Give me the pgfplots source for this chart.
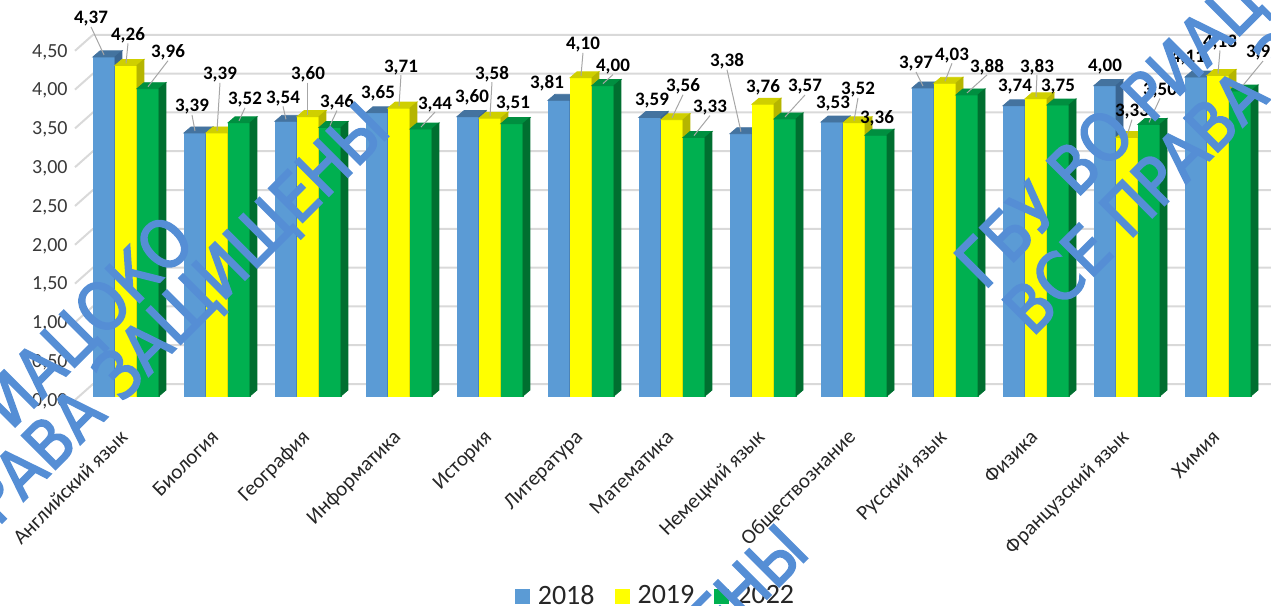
\documentclass[border=0pt]{standalone}
\usepackage{fontspec}
\setmainfont{Carlito}
\newfontfamily\wmfont[FakeStretch=0.89,FakeBold=2.5]{DejaVu Sans}
\usepackage{pgfplots}
\usepackage{pgfplotstable}
\pgfplotsset{compat=1.18}
\pgfdeclareplotmark{nothing}{}

\definecolor{cA}{HTML}{5B9BD5}
\definecolor{cAt}{HTML}{44739F}
\definecolor{cAs}{HTML}{3A6591}
\definecolor{cB}{HTML}{FFFF00}
\definecolor{cBt}{HTML}{CFCF00}
\definecolor{cBs}{HTML}{B5B500}
\definecolor{cC}{HTML}{00B050}
\definecolor{cCt}{HTML}{008F40}
\definecolor{cCs}{HTML}{006F30}
\definecolor{gridc}{HTML}{D9D9D9}
\definecolor{leadc}{HTML}{A6A6A6}
\definecolor{wmblue}{HTML}{558ED5}

% x = category, y = value, lx/ly = label offset (px) from bar top
\pgfplotstableread{
x y lx ly
0 4.37 -13 -38
1 3.39 -3 -26
2 3.54 -3 -23
3 3.65 1 -19
4 3.60 4 -19
5 3.81 -12 -17
6 3.59 2 -17
7 3.38 -14 -72
8 3.53 1 -19
9 3.97 -7 -24
10 3.74 1 -19
11 4.00 0 -19
12 4.11 -8 -19
}\tabA
\pgfplotstableread{
x y lx ly
0 4.26 2 -30
1 3.39 3 -58
2 3.60 0 -42
3 3.71 2 -41
4 3.58 2 -44
5 4.10 2 -33
6 3.56 11 -33
7 3.76 0 -17
8 3.52 4 -33
9 4.03 7 -28
10 3.83 1 -32
11 3.33 5 -26
12 4.13 2 -33
}\tabB
\pgfplotstableread{
x y lx ly
0 3.96 20 -36
1 3.52 6 -23
2 3.46 7 -25
3 3.44 14 -25
4 3.51 1 -20
5 4.00 10 -19
6 3.33 16 -30
7 3.57 20 -32
8 3.36 1 -17
9 3.88 20 -28
10 3.75 0 -18
11 3.50 11 -34
12 3.93 23 -38
}\tabC

\pgfplotsset{
  prism/.style n args={4}{
    only marks, mark=nothing, forget plot,
    scatter, point meta=\thisrow{y},
    visualization depends on={\thisrow{y}\as\yv},
    scatter/@pre marker code/.code={%
      \pgfscope
      \pgftransformshift{\pgfpoint{#1}{0pt}}%
      \pgfmathsetlengthmacro\hh{\yv*38.8pt}%
      \fill[#2] (-5.5pt,0pt) rectangle (5.5pt,-\hh);
      \fill[#3] (-5.5pt,0pt) -- (5.5pt,0pt) -- (9pt,3pt) -- (-2pt,3pt) -- cycle;
      \fill[#4] (5.5pt,0pt) -- (9pt,3pt) -- (9pt,{3pt-\hh}) -- (5.5pt,-\hh) -- cycle;
    },
    scatter/@post marker code/.code={\endpgfscope},
  },
  lbl/.style={
    only marks, mark=nothing, forget plot,
    scatter, point meta=\thisrow{y},
    visualization depends on={\thisrow{y}\as\yv},
    visualization depends on={\thisrow{lx}\as\lx},
    visualization depends on={\thisrow{ly}\as\ly},
    scatter/@pre marker code/.code={%
      \pgfscope
      \pgftransformshift{\pgfpoint{#1}{0pt}}%
      \pgfmathsetmacro\leadlen{veclen(\lx,\ly)}%
      \ifdim\leadlen pt>21pt
        \draw[leadc,line width=0.5pt] ({(\lx)*0.5pt},{(-(\ly)-8)*0.5pt}) -- (0pt,1pt);
      \fi
      \node[font=\bfseries\fontsize{9.5}{10}\selectfont, text=black, inner sep=0pt, anchor=center]
        at ({(\lx)*0.5pt},{-(\ly)*0.5pt}) {\pgfmathprintnumber{\yv}};
    },
    scatter/@post marker code/.code={\endpgfscope},
  },
}

\begin{document}
\begin{tikzpicture}
\useasboundingbox (0,0) rectangle (635.5pt,303pt);
\clip (0,0) rectangle (635.5pt,303pt);
\begin{axis}[
  anchor=south west, at={(46.5pt,105pt)},
  x=45.5pt, y=38.8pt,
  xmin=-0.3626, xmax=12.6, ymin=0, ymax=4.5,
  clip=false, axis line style={draw=none}, major tick length=0pt,
  xtick={0,...,12},
  xticklabels={Английский язык, Биология, География, Информатика, История, Литература, Математика, Немецкий язык, Обществознание, Русский язык, Физика, Французский язык, Химия},
  ytick={0,0.5,1,1.5,2,2.5,3,3.5,4,4.5},
  /pgf/number format/.cd, fixed, fixed zerofill, precision=2, use comma, assume math mode=true, /pgfplots/.cd,
  yticklabel style={anchor=east, inner sep=0pt, xshift=-12.5pt, yshift=-2.5pt,
    font=\fontsize{10}{11}\selectfont, text=black!78},
  xticklabel style={yshift=-21pt, xshift=1.5pt, rotate=45, anchor=base east, inner sep=0pt,
    font=\fontsize{10.5}{12}\selectfont, text=black!85},
  legend style={at={(0.476,-0.573)}, anchor=center, draw=none, fill=none,
    legend columns=3, font=\fontsize{14}{14}\selectfont, text=black!85,
    nodes={inner sep=0pt},
    /tikz/every odd column/.append style={column sep=4pt},
    /tikz/every even column/.append style={column sep=10pt}},
  legend image code/.code={\fill[#1,draw=none] (0pt,-3.75pt) rectangle (7.5pt,3.75pt);},
]
\pgfplotsinvokeforeach{0,0.5,1,1.5,2,2.5,3,3.5,4,4.5}{
  \draw[gridc, line width=1pt] ([yshift=-2pt]axis cs:-0.5604,#1) -- ([yshift=6pt]axis cs:-0.3626,#1) -- ([yshift=6pt]axis cs:12.7,#1);
}
\addplot[prism={-11pt}{cA}{cAt}{cAs}] table[x=x,y=y] {\tabA};
\addplot[prism={0pt}{cB}{cBt}{cBs}] table[x=x,y=y] {\tabB};
\addplot[prism={11pt}{cC}{cCt}{cCs}] table[x=x,y=y] {\tabC};
\addplot[lbl={-11pt}] table[x=x,y=y] {\tabA};
\addplot[lbl={0pt}] table[x=x,y=y] {\tabB};
\addplot[lbl={11pt}] table[x=x,y=y] {\tabC};
\addlegendimage{fill=cA}
\addlegendentry{2018}
\addlegendimage{fill=cB}
\addlegendentry{2019}
\addlegendimage{fill=cC}
\addlegendentry{2022}
\end{axis}
\tikzset{wm/.style={rotate=45, inner sep=0pt, text=wmblue,
  font=\wmfont\fontsize{33}{35}\selectfont}}
\node[wm, anchor=base west] at (492pt,157.3pt) {ГБУ ВО РИАЦОКО};
\node[wm, anchor=base west] at (516pt,134pt) {ВСЕ ПРАВА ЗАЩИЩЕНЫ};
\node[wm, anchor=base east] at (99pt,181pt) {ГБУ ВО РИАЦОКО};
\node[wm, anchor=base east] at (196.5pt,237pt) {ВСЕ ПРАВА ЗАЩИЩЕНЫ};
\node[wm, anchor=base east] at (406pt,26pt) {ВСЕ ПРАВА ЗАЩИЩЕНЫ};
\end{tikzpicture}
\end{document}
